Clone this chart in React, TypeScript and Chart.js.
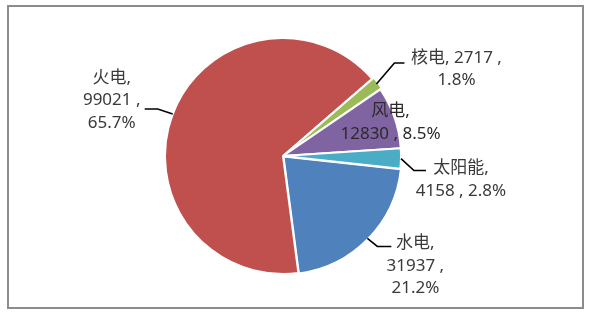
import React, { useEffect, useRef } from "react";
import { Chart, registerables } from "chart.js";

Chart.register(...registerables);

// Installed capacity by generation type
const categories = ["水电", "火电", "核电", "风电", "太阳能"];
const capacity = [31937, 99021, 2717, 12830, 4158];
const sliceColors = ["#4F81BD", "#C0504D", "#9BBB59", "#8064A2", "#4BACC6"];
const sliceOffsets = [3, 0, 4, 0, 0];

// How each data label wraps and where it sits relative to its slice edge
type LabelLayout = {
  wrap: "stack" | "nameValue" | "valuePct";
  elbow?: [number, number];
  tail?: number;
  text: [number, number];
};
const labelLayouts: LabelLayout[] = [
  { wrap: "stack", elbow: [10, 8], tail: 14, text: [24, -3] },
  { wrap: "stack", elbow: [-15, -5], tail: -13, text: [-33, -31] },
  { wrap: "nameValue", elbow: [18, -21], tail: 10, text: [52, -5] },
  { wrap: "valuePct", text: [-4, -6] },
  { wrap: "valuePct", elbow: [13, 12], tail: 12, text: [35, -2] },
];

const FONT = '17px "Noto Sans", "Noto Sans CJK SC", sans-serif';
const LINE_HEIGHT = 22.5;

const framePlugin = {
  id: "frame",
  beforeDraw(chart: Chart) {
    const ctx = chart.ctx;
    ctx.save();
    ctx.fillStyle = "#ffffff";
    ctx.fillRect(0, 0, chart.width, chart.height);
    ctx.strokeStyle = "#8c8c8c";
    ctx.lineWidth = 2;
    ctx.strokeRect(8, 6, 575, 302);
    ctx.restore();
  },
};

const labelPlugin = {
  id: "sliceLabels",
  afterDatasetsDraw(chart: Chart) {
    const ctx = chart.ctx;
    const meta = chart.getDatasetMeta(0);
    const total = capacity.reduce((a, b) => a + b, 0);
    ctx.save();
    ctx.font = FONT;
    ctx.textAlign = "center";
    ctx.textBaseline = "middle";
    meta.data.forEach((arc: any, i: number) => {
      const { x, y, startAngle, endAngle, outerRadius } = arc.getProps(
        ["x", "y", "startAngle", "endAngle", "outerRadius"],
        true
      );
      const mid = (startAngle + endAngle) / 2;
      const ex = x + outerRadius * Math.cos(mid);
      const ey = y + outerRadius * Math.sin(mid);
      const layout = labelLayouts[i];
      let ax = ex;
      let ay = ey;
      if (layout.elbow) {
        const bx = ex + layout.elbow[0];
        const by = ey + layout.elbow[1];
        ax = bx + (layout.tail || 0);
        ay = by;
        ctx.strokeStyle = "#000000";
        ctx.lineWidth = 1.6;
        ctx.beginPath();
        ctx.moveTo(ex, ey);
        ctx.lineTo(bx, by);
        ctx.lineTo(ax, ay);
        ctx.stroke();
      }
      const name = categories[i];
      const value = String(capacity[i]);
      const pct = ((capacity[i] / total) * 100).toFixed(1) + "%";
      let lines: string[];
      if (layout.wrap === "stack") lines = [name + ",", value + " ,", pct];
      else if (layout.wrap === "nameValue") lines = [name + ", " + value + " ,", pct];
      else lines = [name + ",", value + " , " + pct];
      const tx = ax + layout.text[0];
      const ty = ay + layout.text[1];
      ctx.fillStyle = i === 3 ? "#2a2a2a" : "#3a3a3a";
      lines.forEach((line, k) => ctx.fillText(line, tx, ty + k * LINE_HEIGHT));
    });
    ctx.restore();
  },
};

export default function App() {
  const canvasRef = useRef<HTMLCanvasElement | null>(null);

  useEffect(() => {
    document.body.style.margin = "0";
    const canvas = canvasRef.current;
    if (!canvas) return;
    const chart = new Chart(canvas, {
      type: "pie",
      data: {
        labels: categories,
        datasets: [
          {
            data: capacity,
            backgroundColor: sliceColors,
            borderColor: "#ffffff",
            borderWidth: 2,
            offset: sliceOffsets,
          },
        ],
      },
      options: {
        responsive: false,
        animation: false,
        events: [],
        rotation: 96.2,
        layout: { padding: { left: 162, right: 187, top: 35, bottom: 38 } },
        plugins: {
          legend: { display: false },
          tooltip: { enabled: false },
          title: { display: false },
        },
      },
      plugins: [framePlugin, labelPlugin],
    });
    return () => chart.destroy();
  }, []);

  return (
    <div style={{ width: 591, height: 315, position: "relative" }}>
      <canvas ref={canvasRef} width={591} height={315} style={{ display: "block" }} />
    </div>
  );
}
